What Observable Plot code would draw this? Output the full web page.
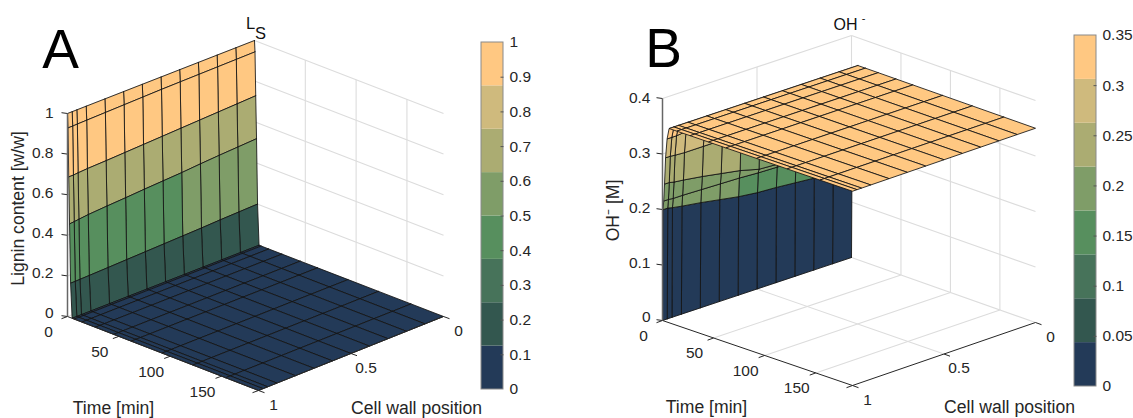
<!DOCTYPE html>
<html><head><meta charset="utf-8">
<script src="https://cdn.jsdelivr.net/npm/d3@7"></script>
<script src="https://cdn.jsdelivr.net/npm/@observablehq/plot@0.6"></script>
<style>html,body{margin:0;padding:0;background:#fff}svg{display:block}</style>
</head><body><div id="chart"></div>
<script>
const palette = ["#233A58","#33574F","#47735A","#578F5E","#7F9D68","#ABAC72","#CFBA7D","#FFC882"];
const timeMesh = [0,0.5,1.2,2,3,4.5,6.5,14,27,45,62,92,122,154,186];
const positionMesh = [0,0.1,0.2,0.3,0.4,0.5,0.6,0.7,0.8,0.9,0.95,0.975,1];
const ligninRows = [
 [1,1,1,1,1,1,1,1,1,1,1,1,1],
 [.945,.944,.943,.942,.941,.94,.938,.936,.934,.932,.931,.93,.93],
 [.73,.726,.722,.718,.714,.71,.706,.702,.698,.695,.692,.69,.69],
 [.52,.515,.51,.504,.497,.492,.487,.481,.476,.47,.465,.462,.46],
 [.2,.197,.194,.19,.187,.184,.181,.178,.175,.172,.171,.17,.17],
 [0,0,0,0,0,0,0,0,0,0,0,0,0],
 [0,0,0,0,0,0,0,0,0,0,0,0,0],[0,0,0,0,0,0,0,0,0,0,0,0,0],[0,0,0,0,0,0,0,0,0,0,0,0,0],
 [0,0,0,0,0,0,0,0,0,0,0,0,0],[0,0,0,0,0,0,0,0,0,0,0,0,0],[0,0,0,0,0,0,0,0,0,0,0,0,0],
 [0,0,0,0,0,0,0,0,0,0,0,0,0],[0,0,0,0,0,0,0,0,0,0,0,0,0],[0,0,0,0,0,0,0,0,0,0,0,0,0]
];
const hydroxideRows = [
 [0,0,0,0,0,0,0,0,0,0,0,0,0],
 [.16,.163,.166,.169,.172,.174,.178,.184,.19,.195,.198,.2,.2],
 [.205,.206,.207,.208,.209,.21,.212,.213,.214,.215,.215,.216,.216],
 [.21,.211,.212,.213,.215,.217,.226,.232,.238,.243,.245,.247,.247],
 [.3,.3,.3,.298,.296,.295,.294,.293,.293,.293,.294,.295,.295],
 [.34,.34,.34,.34,.34,.34,.338,.336,.334,.332,.33,.33,.33],
 [.35,.35,.35,.35,.35,.35,.35,.35,.35,.35,.35,.35,.35],
 [.35,.35,.35,.35,.35,.35,.35,.35,.35,.35,.35,.35,.35],
 [.35,.35,.35,.35,.35,.35,.35,.35,.35,.35,.35,.35,.35],
 [.35,.35,.35,.35,.35,.35,.35,.35,.35,.35,.35,.35,.35],
 [.35,.35,.35,.35,.35,.35,.35,.35,.35,.35,.35,.35,.35],
 [.35,.35,.35,.35,.35,.35,.35,.35,.35,.35,.35,.35,.35],
 [.35,.35,.35,.35,.35,.35,.35,.35,.35,.35,.35,.35,.35],
 [.35,.35,.35,.35,.35,.35,.35,.35,.35,.35,.35,.35,.35],
 [.35,.35,.35,.35,.35,.35,.35,.35,.35,.35,.35,.35,.35]
];
const timeTicks = [50,100,150];
const timeTickLabels = [0,50,100,150];
const positionTicks = [0,0.5,1];
const ligninTicks = [0,0.2,0.4,0.6,0.8,1];
const hydroxideTicks = [0,0.1,0.2,0.3,0.4];
const ligninBarTicks = [0,0.1,0.2,0.3,0.4,0.5,0.6,0.7,0.8,0.9,1];
const hydroxideBarTicks = [0,0.05,0.1,0.15,0.2,0.25,0.3,0.35];

const panelA = {name:"A",A:[67,316],B:[258,390],C:[443,316],D:[254,243],zTop:1,zPx:203,zMax:1,rows:ligninRows,
  zTicks:ligninTicks,barX:[481,503],barY:[389,42],barTicks:ligninBarTicks,zLabelX:53};
const panelB = {name:"B",A:[662,320],B:[852,385],C:[1035,322],D:[851,257],zTop:.4,zPx:222,zMax:.35,rows:hydroxideRows,
  zTicks:hydroxideTicks,barX:[1074,1096],barY:[386,35],barTicks:hydroxideBarTicks,zLabelX:650};
const tMax = 186;

function project(P,t,p,z){
  const u=t/tMax, v=p;
  const bl=(k)=>(1-u)*(v*P.A[k]+(1-v)*P.D[k])+u*(v*P.B[k]+(1-v)*P.C[k]);
  return [bl(0), bl(1)-z/P.zTop*P.zPx];
}
function cells(P){
  const out=[];
  for(let i=0;i<timeMesh.length-1;i++)for(let j=0;j<positionMesh.length-1;j++){
    const v=P.rows[i][j], band=Math.min(7,Math.floor(v/P.zMax*8+1e-9));
    const id=`${P.name}-${i}-${j}`;
    [[i,j],[i+1,j],[i+1,j+1],[i,j+1],[i,j]].forEach(([a,b])=>{
      const [x,y]=project(P,timeMesh[a],positionMesh[b],P.rows[a][b]);
      out.push({x,y,id,band});
    });
  }
  return out;
}
function seg(a,b){return {x1:a[0],y1:a[1],x2:b[0],y2:b[1]};}
function gridLines(P){
  const g=[];
  P.zTicks.forEach(z=>{
    g.push(seg(project(P,0,0,z),project(P,tMax,0,z)));
    g.push(seg(project(P,0,0,z),project(P,0,1,z)));
  });
  timeTicks.forEach(t=>{
    g.push(seg(project(P,t,0,0),project(P,t,0,P.zTop)));
    g.push(seg(project(P,t,0,0),project(P,t,1,0)));
  });
  g.push(seg(project(P,0,.5,0),project(P,0,.5,P.zTop)));
  g.push(seg(project(P,0,.5,0),project(P,tMax,.5,0)));
  g.push(seg(project(P,0,0,0),project(P,0,0,P.zTop)));
  return g;
}
function axisLines(P){
  const a=[seg(project(P,0,1,0),project(P,tMax,1,0)),seg(project(P,tMax,1,0),project(P,tMax,0,0))];
  [0,...timeTicks,tMax].forEach(t=>{const q=project(P,t,1,0);a.push(seg(q,[q[0]-6,q[1]+2.2]));});
  positionTicks.forEach(p=>{const q=project(P,tMax,p,0);a.push(seg(q,[q[0]+6,q[1]+2.2]));});
  P.zTicks.forEach(z=>{const q=project(P,0,1,z);a.push(seg(q,[q[0]-6,q[1]-.8]));});
  return a;
}
function floorTickText(P){
  const out=[];
  timeTickLabels.forEach(t=>{const q=project(P,t,1,0);out.push({x:q[0]-19,y:q[1]+15.5,text:String(t)});});
  positionTicks.forEach(p=>{const q=project(P,tMax,p,0);out.push({x:q[0]+15,y:q[1]+14.5,text:String(p)});});
  return out;
}
function zTickText(P){return P.zTicks.map(z=>({x:P.zLabelX,y:project(P,0,1,z)[1]-3*(1-z/P.zTop),text:String(z)}));}
function barTickText(P){return P.barTicks.map(v=>({x:P.barX[1]+6,y:barY(P,v),text:String(v)}));}
function barY(P,v){return P.barY[0]+(P.barY[1]-P.barY[0])*v/P.zMax;}
function barCells(P){return d3.range(8).map(i=>({band:i,x1:P.barX[0],x2:P.barX[1],y1:barY(P,P.zMax*i/8),y2:barY(P,P.zMax*(i+1)/8)}));}
function barFrame(P){return [{x1:P.barX[0],x2:P.barX[1],y1:P.barY[0],y2:P.barY[1]}];}
function barTickSegs(P){return P.barTicks.filter(v=>v>0&&v<P.zMax).map(v=>seg([P.barX[1]-3,barY(P,v)],[P.barX[1],barY(P,v)]));}

const panels=[panelA,panelB];
const font="Liberation Sans, Arial, sans-serif";
const ink="#262626";
const axisTitles=[
 {x:113,y:408,text:"Time [min]",rotate:0},{x:416,y:408,text:"Cell wall position",rotate:0},
 {x:18,y:208,text:"Lignin content [w/w]",rotate:-90},
 {x:706,y:407,text:"Time [min]",rotate:0},{x:1009,y:407,text:"Cell wall position",rotate:0},
 {x:613,y:210,text:"OH\u207B [M]",rotate:-90}
];
const zTitles=[{x:250,y:23,text:"L",size:16.5},{x:260,y:33,text:"S",size:16.5},{x:845,y:24,text:"OH",size:16},{x:863,y:18,text:"-",size:11}];
const panelLetters=[{x:60,y:50,text:"A"},{x:663,y:49,text:"B"}];

const plot=Plot.plot({
  width:1133,height:418,margin:0,
  x:{domain:[0,1133],range:[0,1133],axis:null},
  y:{domain:[0,418],range:[0,418],axis:null},
  color:{type:"ordinal",domain:d3.range(8),range:palette},
  style:{background:"#fff",fontFamily:font},
  marks:[
    ...panels.map(P=>Plot.link(gridLines(P),{x1:"x1",y1:"y1",x2:"x2",y2:"y2",stroke:"#dcdcdc",strokeWidth:1.1})),
    ...panels.map(P=>Plot.line(cells(P),{x:"x",y:"y",z:"id",fill:"band",stroke:"#141414",strokeWidth:1,strokeOpacity:.85,strokeLinejoin:"round"})),
    ...panels.map(P=>Plot.link(axisLines(P),{x1:"x1",y1:"y1",x2:"x2",y2:"y2",stroke:ink,strokeWidth:1})),
    ...panels.map(P=>Plot.link([seg(project(P,0,1,0),project(P,0,1,P.zTop))],{x1:"x1",y1:"y1",x2:"x2",y2:"y2",stroke:"#666",strokeWidth:1.5})),
    ...panels.map(P=>Plot.rect(barCells(P),{x1:"x1",x2:"x2",y1:"y1",y2:"y2",fill:"band"})),
    ...panels.map(P=>Plot.rect(barFrame(P),{x1:"x1",x2:"x2",y1:"y1",y2:"y2",fill:"none",stroke:"#8a8a8a",strokeWidth:1})),
    ...panels.map(P=>Plot.link(barTickSegs(P),{x1:"x1",y1:"y1",x2:"x2",y2:"y2",stroke:"#555",strokeWidth:1})),
    ...panels.map(P=>Plot.text(floorTickText(P),{x:"x",y:"y",text:"text",textAnchor:"middle",fontSize:15.5,fill:ink,fontFamily:font})),
    ...panels.map(P=>Plot.text(zTickText(P),{x:"x",y:"y",text:"text",textAnchor:"end",fontSize:15.5,fill:ink,fontFamily:font})),
    ...panels.map(P=>Plot.text(barTickText(P),{x:"x",y:"y",text:"text",textAnchor:"start",fontSize:15.5,fill:ink,fontFamily:font})),
    Plot.text(axisTitles,{x:"x",y:"y",text:"text",rotate:"rotate",fontSize:17.6,fill:ink,fontFamily:font}),
    Plot.text(zTitles,{x:"x",y:"y",text:"text",fontSize:"size",fill:"#111",fontFamily:font}),
    Plot.text(panelLetters,{x:"x",y:"y",text:"text",fontSize:55,fill:"#000",fontFamily:font})
  ]
});
document.getElementById("chart").appendChild(plot);
</script></body></html>
